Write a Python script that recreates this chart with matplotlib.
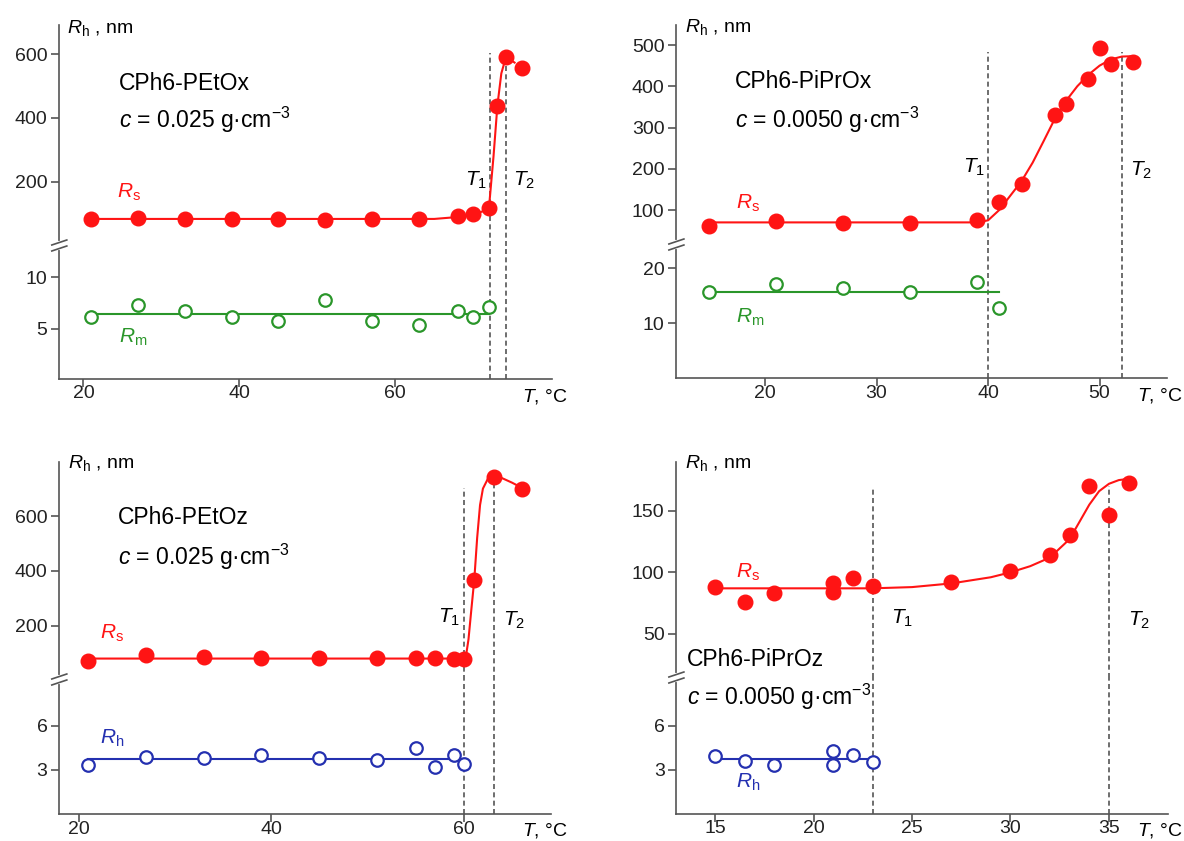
# temperature dependence of hydrodynamic radii, four star-shaped polymers
import numpy as np
import matplotlib.pyplot as plt
from matplotlib.lines import Line2D

plt.rcParams['font.family'] = 'Liberation Sans'
plt.rcParams['mathtext.fontset'] = 'custom'
plt.rcParams['mathtext.rm'] = 'Liberation Sans'
plt.rcParams['mathtext.it'] = 'Liberation Sans:italic'

# ---- data ----
# CPh6-PEtOx
etox_T = [21, 27, 33, 39, 45, 51, 57, 63, 68, 70, 72, 73.1, 74.2, 76.2]
etox_Rs = [84, 85, 83, 84, 83, 80, 82, 83, 92, 98, 117, 438, 591, 558]
etox_Tm = [21, 27, 33, 39, 45, 51, 57, 63, 68, 70, 72]
etox_Rm = [6.1, 7.3, 6.7, 6.1, 5.7, 7.8, 5.7, 5.4, 6.7, 6.1, 7.1]
etox_fit_T = [21, 65, 68, 70, 72, 72.6, 73.1, 73.6, 74.2, 75.3]
etox_fit_R = [83, 83, 89, 96, 114, 280, 440, 540, 592, 574]
etox_Rm_level = 6.45
etox_T1, etox_T2 = 72.1, 74.2

# CPh6-PiPrOx
iprox_T = [15, 21, 27, 33, 39, 41, 43, 46, 47, 49, 50, 51, 53]
iprox_Rs = [61, 74, 68, 68, 76, 119, 164, 330, 356, 418, 493, 454, 459]
iprox_Tm = [15, 21, 27, 33, 39, 41]
iprox_Rm = [15.6, 17.1, 16.4, 15.6, 17.4, 12.8]
iprox_fit_T = [15, 39, 40, 41, 42, 43, 44, 45, 46, 47, 48, 49, 50, 51, 52, 53]
iprox_fit_R = [70, 70, 75, 100, 135, 170, 215, 268, 322, 365, 400, 428, 450, 465, 472, 473]
iprox_Rm_level = 15.7
iprox_T1, iprox_T2 = 40.0, 52.0

# CPh6-PEtOz
etoz_T = [21, 27, 33, 39, 45, 51, 55, 57, 59, 60, 61.1, 63.1, 66.1]
etoz_Rs = [72, 92, 86, 83, 81, 81, 81, 83, 77, 77, 367, 742, 699]
etoz_Th = [21, 27, 33, 39, 45, 51, 55, 57, 59, 60]
etoz_Rh = [3.3, 3.9, 3.8, 4.0, 3.8, 3.7, 4.5, 3.2, 4.0, 3.4]
etoz_fit_T = [21, 60.2, 60.5, 60.8, 61.1, 61.4, 61.7, 62.0, 62.5, 63.1, 64, 65, 66.1]
etoz_fit_R = [80, 80, 150, 260, 367, 520, 640, 700, 735, 745, 738, 722, 702]
etoz_Rh_level = 3.73
etoz_T1, etoz_T2 = 60.0, 63.1

# CPh6-PiPrOz
iproz_T = [15, 16.5, 18, 21, 21, 22, 23, 27, 30, 32, 33, 34, 35, 36]
iproz_Rs = [88, 76, 83, 91, 84, 95, 89, 92, 101, 114, 130, 170, 147, 173]
iproz_Th = [15, 16.5, 18, 21, 21, 22, 23]
iproz_Rh = [3.9, 3.6, 3.3, 4.3, 3.3, 4.0, 3.5]
iproz_fit_T = [15, 23, 25, 27, 29, 30, 31, 32, 33, 33.5, 34, 34.5, 35, 35.5, 36]
iproz_fit_R = [87, 87, 88, 91, 96, 100, 105, 112, 127, 141, 155, 166, 172, 175, 176]
iproz_Rh_level = 3.73
iproz_T1, iproz_T2 = 23.0, 35.0

W, H = 1184, 841
RED = '#ff1414'
GREEN = '#2a962a'
BLUE = '#2430b0'
SPINE = '#555555'

fig = plt.figure(figsize=(W / 100, H / 100), dpi=100)


def fx(x):
    return x / W


def fy(y):
    return 1 - y / H


def text(x, y, s, **kw):
    kw.setdefault('fontsize', 14)
    kw.setdefault('va', 'center')
    fig.text(fx(x), fy(y), s, **kw)


def style(ax, top):
    for side in ['top', 'right']:
        ax.spines[side].set_visible(False)
    ax.spines['left'].set_color(SPINE)
    ax.spines['left'].set_linewidth(1.2)
    ax.spines['bottom'].set_color(SPINE)
    ax.spines['bottom'].set_linewidth(1.2)
    ax.tick_params(direction='out', length=5.5, width=1.2, color=SPINE,
                   labelsize=14, labelcolor='#222222', pad=3)
    ax.tick_params(axis='x', pad=-0.5)
    ax.patch.set_alpha(0)
    if top:
        ax.spines['bottom'].set_visible(False)
        ax.tick_params(axis='x', bottom=False, labelbottom=False)


def panel(l, r, t, brk, b, xlim, ylim_up, ylim_lo, xticks, yt_up, yt_lo):
    ax_u = fig.add_axes([fx(l), fy(brk), fx(r - l), (brk - t) / H])
    ax_l = fig.add_axes([fx(l), fy(b), fx(r - l), (b - brk) / H])
    for ax in (ax_u, ax_l):
        ax.set_xlim(xlim)
    ax_u.set_ylim(ylim_up)
    ax_l.set_ylim(ylim_lo)
    ax_u.set_yticks(yt_up)
    ax_l.set_yticks(yt_lo)
    ax_l.set_xticks(xticks)
    style(ax_u, True)
    style(ax_l, False)
    # axis break mark
    sx = l
    fig.add_artist(Line2D([fx(sx), fx(sx)], [fy(brk - 3), fy(brk + 2)],
                          color='white', lw=3))
    for dy in (-1, 5):
        fig.add_artist(Line2D([fx(sx - 7.5), fx(sx + 7.5)],
                              [fy(brk + dy), fy(brk + dy - 5)],
                              color=SPINE, lw=1.2))
    return ax_u, ax_l


def tlines(ax_u, ax_l, xs, tops):
    for x, top in zip(xs, tops):
        ax_u.vlines(x, ax_u.get_ylim()[0], top, color=SPINE, lw=1.2,
                    linestyles=(0, (3, 2)), zorder=1)
        ax_l.axvline(x, color=SPINE, lw=1.2, ls=(0, (3, 2)), zorder=1)


def big(ax, T, R, fT, fR):
    ax.plot(fT, fR, color=RED, lw=1.5, zorder=2)
    ax.plot(T, R, 'o', color=RED, ms=10.5, mec=RED, zorder=3, clip_on=False)


def small(ax, T, R, level, c):
    ax.plot([T[0], T[-1]], [level, level], color=c, lw=1.5, zorder=2)
    ax.plot(T, R, 'o', mfc='white', mec=c, ms=9, mew=1.6, zorder=3, clip_on=False)


# ---- panel 1: CPh6-PEtOx ----
u, lo = panel(59.3, 552, 25, 246, 378.5, (16.9, 80.1), (-2, 692), (0.13, 13.07),
              [20, 40, 60], [200, 400, 600], [5, 10])
tlines(u, lo, [etox_T1, etox_T2], [605, 605])
big(u, etox_T, etox_Rs, etox_fit_T, etox_fit_R)
small(lo, etox_Tm, etox_Rm, etox_Rm_level, GREEN)
text(67, 28, r'$R_\mathrm{h}$ , nm')
text(118.6, 83, 'CPh6-PEtOx', fontsize=16.5)
text(118.6, 120, r'$c$ = 0.025 g·cm$^{-3}$', fontsize=16.5)
text(465, 180, r'$T_1$', fontsize=15)
text(513, 180, r'$T_2$', fontsize=15)
text(116.7, 192, r'$R_\mathrm{s}$', color=RED, fontsize=15)
text(118.6, 337, r'$R_\mathrm{m}$', color=GREEN, fontsize=15)
text(522.4, 397, r'$T$, °C')

# ---- panel 2: CPh6-PiPrOx ----
u, lo = panel(676.4, 1166.5, 25, 245, 378, (12.05, 56.0), (15.2, 548.5), (0.05, 24.2),
              [20, 30, 40, 50], [100, 200, 300, 400, 500], [10, 20])
tlines(u, lo, [iprox_T1, iprox_T2], [484, 484])
big(u, iprox_T, iprox_Rs, iprox_fit_T, iprox_fit_R)
small(lo, iprox_Tm, iprox_Rm, iprox_Rm_level, GREEN)
text(684.7, 27, r'$R_\mathrm{h}$ , nm')
text(735, 82, 'CPh6-PiPrOx', fontsize=16.5)
text(735, 120, r'$c$ = 0.0050 g·cm$^{-3}$', fontsize=16.5)
text(963, 167, r'$T_1$', fontsize=15)
text(1130, 170, r'$T_2$', fontsize=15)
text(735.8, 203, r'$R_\mathrm{s}$', color=RED, fontsize=15)
text(735.8, 317, r'$R_\mathrm{m}$', color=GREEN, fontsize=15)
text(1137, 395, r'$T$, °C')

# ---- panel 3: CPh6-PEtOz ----
u, lo = panel(59.3, 551, 462, 680, 814, (18.0, 69.07), (1.8, 797), (-0.02, 9.13),
              [20, 40, 60], [200, 400, 600], [3, 6])
tlines(u, lo, [etoz_T1, etoz_T2], [701, 742])
big(u, etoz_T, etoz_Rs, etoz_fit_T, etoz_fit_R)
small(lo, etoz_Th, etoz_Rh, etoz_Rh_level, BLUE)
text(68, 463, r'$R_\mathrm{h}$ , nm')
text(118, 518, 'CPh6-PEtOz', fontsize=16.5)
text(118, 557, r'$c$ = 0.025 g·cm$^{-3}$', fontsize=16.5)
text(438, 617, r'$T_1$', fontsize=15)
text(503, 620, r'$T_2$', fontsize=15)
text(100, 633, r'$R_\mathrm{s}$', color=RED, fontsize=15)
text(100, 738, r'$R_\mathrm{h}$', color=BLUE, fontsize=15)
text(522, 830, r'$T$, °C')

# ---- panel 4: CPh6-PiPrOz ----
u, lo = panel(676.4, 1167.7, 462, 678, 813.5, (13.04, 37.98), (14.1, 189.7), (0.0, 9.27),
              [15, 20, 25, 30, 35], [50, 100, 150], [3, 6])
tlines(u, lo, [iproz_T1, iproz_T2], [168, 170])
big(u, iproz_T, iproz_Rs, iproz_fit_T, iproz_fit_R)
small(lo, iproz_Th, iproz_Rh, iproz_Rh_level, BLUE)
text(684.7, 463, r'$R_\mathrm{h}$ , nm')
text(686.6, 659, 'CPh6-PiPrOz', fontsize=16.5)
text(686.6, 697, r'$c$ = 0.0050 g·cm$^{-3}$', fontsize=16.5)
text(891, 618, r'$T_1$', fontsize=15)
text(1128, 620, r'$T_2$', fontsize=15)
text(735.8, 572, r'$R_\mathrm{s}$', color=RED, fontsize=15)
text(735.8, 782, r'$R_\mathrm{h}$', color=BLUE, fontsize=15)
text(1137, 830, r'$T$, °C')

fig.savefig('out.png', dpi=100, facecolor='white')
